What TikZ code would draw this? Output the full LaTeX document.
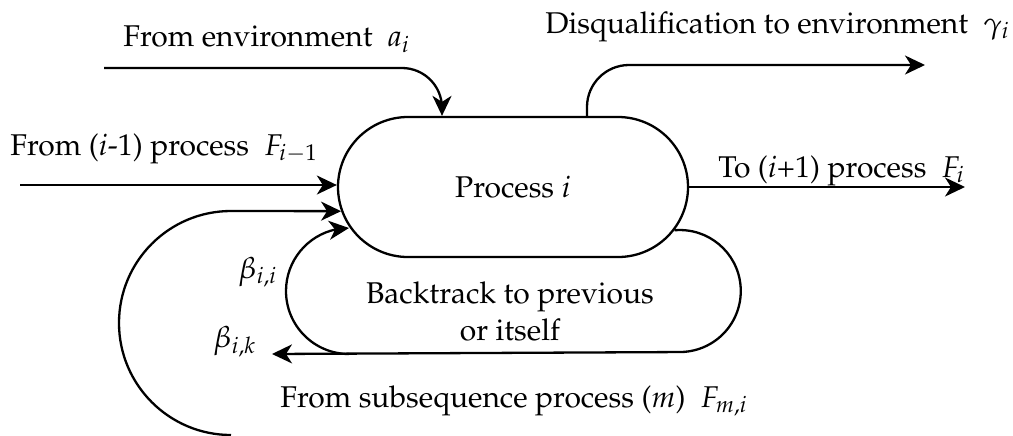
\documentclass[tikz,border=0pt]{standalone}
\usepackage[T1]{fontenc}
\usepackage{mathpazo}
\usetikzlibrary{arrows.meta,bending,shapes.misc,calc}
\begin{document}
\begin{tikzpicture}[x=0.5pt,y=-0.5pt,
  ln/.style={line width=1.15pt},
  arr/.style={ln,-{Stealth[length=10pt,width=9.5pt,inset=3pt]}},
  lbl/.style={font=\fontsize{15}{18.5}\selectfont, inner sep=0pt},
  procbox/.style={ln, draw, rounded rectangle, minimum width=175pt, minimum height=70pt, inner sep=0pt}]
\useasboundingbox (0,0) rectangle (1013,435);

% main process
\node[procbox, lbl] (p) at (513,187) {Process $i$};

% free ends
\coordinate (ain) at (104,68);
\coordinate (gout) at (925,65);
\coordinate (fin) at (20,185);
\coordinate (fout) at (965,187);
\coordinate (lbot) at (231,435);
\coordinate (bk) at (272,354);
\coordinate (bl) at (349,354);

% connectors
\draw[arr, rounded corners=20pt] (ain) -| ($(p.north)+(-71,0)$);
\draw[arr, rounded corners=21pt] ($(p.north)+(74,0)$) |- (gout);
\draw[arr] (fin) -- (fin -| p.west);
\draw[arr] (p.east) -- (fout);
\draw[arr] (lbot) arc[start angle=90, end angle=270, radius=112] -- (p.188);
\draw[arr] (bl) arc[start angle=90, end angle=270, radius=63];
\draw[arr] (p.-15.8) arc[start angle=265, end angle=450, radius=61] -- (bk);

% labels
\node[lbl, anchor=base west] (tA) at (123,46.5) {From environment\enspace$a_i$};
\node[lbl, anchor=base west] (tF) at (10,155) {From ($i$-1) process\enspace$F_{i-1}$};
\node[lbl, anchor=base west] (tG) at (545,33) {Disqualification to environment\enspace$\gamma_i$};
\node[lbl, anchor=base west] (tT) at (718,177) {To ($i$+1) process\enspace$F_i$};
\node[lbl, align=center, anchor=base] (tB) at (510,340) {Backtrack to previous\\or itself};
\node[lbl, anchor=base west] (tS) at (280,407) {From subsequence process ($m$)\enspace$F_{m,i}$};
\node[lbl, anchor=base west] (tbii) at (238,278) {$\beta_{i,i}$};
\node[lbl, anchor=base west] (tbik) at (213,347) {$\beta_{i,k}$};
\end{tikzpicture}
\end{document}
